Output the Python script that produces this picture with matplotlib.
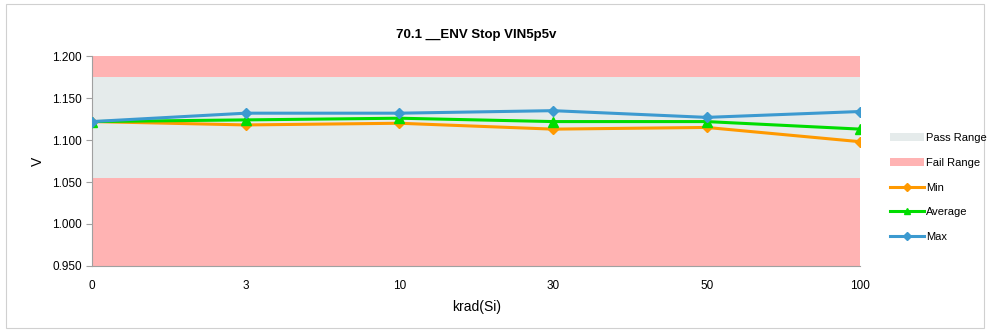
import matplotlib.pyplot as plt
from matplotlib.patches import Patch, Rectangle
from matplotlib.lines import Line2D

plt.rcParams['font.family'] = ['Liberation Sans', 'DejaVu Sans']

# Data
doses = ["0", "3", "10", "30", "50", "100"]
v_min = [1.122, 1.118, 1.120, 1.113, 1.115, 1.098]
v_avg = [1.122, 1.124, 1.126, 1.122, 1.122, 1.113]
v_max = [1.122, 1.132, 1.132, 1.135, 1.127, 1.134]
pass_low, pass_high = 1.055, 1.175
y_low, y_high = 0.950, 1.200

c_min = '#FF9900'
c_avg = '#00DD00'
c_max = '#3C9AD0'
c_pass = '#E5EBEB'
c_fail = '#FFB3B3'

fig = plt.figure(figsize=(9.9, 3.32), dpi=100)
fig.patches.append(Rectangle((0.006, 0.012), 0.988, 0.976, transform=fig.transFigure,
                             fill=False, edgecolor='#D0D0D0', linewidth=0.8))
ax = fig.add_axes([0.093, 0.199, 0.776, 0.632])

x = list(range(len(doses)))
ax.axhspan(y_low, pass_low, color=c_fail, lw=0, zorder=0)
ax.axhspan(pass_high, y_high, color=c_fail, lw=0, zorder=0)
ax.axhspan(pass_low, pass_high, color=c_pass, lw=0, zorder=0)

ax.plot(x, v_min, color=c_min, lw=2.2, marker='D', ms=5, zorder=3)
ax.plot(x, v_avg, color=c_avg, lw=2.2, marker='^', ms=6.5, zorder=3)
ax.plot(x, v_max, color=c_max, lw=2.2, marker='D', ms=5, zorder=4)

ax.set_xlim(0, len(doses) - 1)
ax.set_ylim(y_low, y_high)
ax.set_xticks(x)
ax.set_xticklabels(doses)
ax.set_yticks([0.95, 1.0, 1.05, 1.1, 1.15, 1.2])
ax.set_yticklabels(["%.3f" % v for v in [0.95, 1.0, 1.05, 1.1, 1.15, 1.2]])
ax.tick_params(axis='y', labelsize=8.5, length=4, color='#A0A0A0', width=0.8)
ax.tick_params(axis='x', labelsize=8.5, length=0, pad=10)
for s in ['top', 'right']:
    ax.spines[s].set_visible(False)
for s in ['left', 'bottom']:
    ax.spines[s].set_color('#A0A0A0')
    ax.spines[s].set_linewidth(0.8)

ax.set_xlabel("krad(Si)", fontsize=10, labelpad=6)
ax.set_ylabel("V", fontsize=10, labelpad=5)
ax.set_title("70.1 __ENV Stop VIN5p5v", fontsize=9.5, fontweight='bold', pad=13)

handles = [
    Patch(facecolor=c_pass, edgecolor='none'),
    Patch(facecolor=c_fail, edgecolor='none'),
    Line2D([], [], color=c_min, lw=2.2, marker='D', ms=4),
    Line2D([], [], color=c_avg, lw=2.2, marker='^', ms=5),
    Line2D([], [], color=c_max, lw=2.2, marker='D', ms=4),
]
labels = ["Pass Range", "Fail Range", "Min", "Average", "Max"]
fig.legend(handles, labels, loc='upper left', bbox_to_anchor=(0.895, 0.612),
           frameon=False, fontsize=8, handlelength=3.0, handletextpad=0.2,
           labelspacing=1.32, borderaxespad=0)

fig.savefig('out.png', dpi=100)
